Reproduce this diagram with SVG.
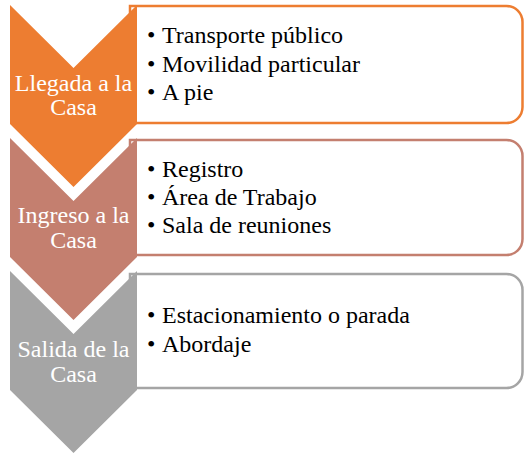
<svg xmlns="http://www.w3.org/2000/svg" width="524" height="455" viewBox="0 0 524 455">
<rect width="524" height="455" fill="#fff"/>
<g id="step1">
<path fill="#fff" stroke-width="2.5" stroke="#ED7D31" d="M130,6 H506.5 A16,16 0 0 1 522.5,22 V107 A16,16 0 0 1 506.5,123 H130 Z"/>
<path fill="#ED7D31" d="M10,5 L73.5,68 L137,5 L137,124 L73.5,187 L10,124 Z"/>
<text x="73.5" y="91" font-family="'Liberation Serif', 'Times New Roman', serif" font-size="24" fill="#fff" text-anchor="middle">Llegada a la</text>
<text x="73.5" y="115" font-family="'Liberation Serif', 'Times New Roman', serif" font-size="24" fill="#fff" text-anchor="middle">Casa</text>
<text x="147" y="43" font-family="'Liberation Serif', 'Times New Roman', serif" font-size="24">•</text>
<text x="162" y="43" font-family="'Liberation Serif', 'Times New Roman', serif" font-size="24">Transporte público</text>
<text x="147" y="72" font-family="'Liberation Serif', 'Times New Roman', serif" font-size="24">•</text>
<text x="162" y="72" font-family="'Liberation Serif', 'Times New Roman', serif" font-size="24">Movilidad particular</text>
<text x="147" y="100" font-family="'Liberation Serif', 'Times New Roman', serif" font-size="24">•</text>
<text x="162" y="100" font-family="'Liberation Serif', 'Times New Roman', serif" font-size="24">A pie</text>
</g>
<g id="step2">
<path fill="#fff" stroke-width="2.5" stroke="#C47F6F" d="M130,140 H506.5 A16,16 0 0 1 522.5,156 V239 A16,16 0 0 1 506.5,255 H130 Z"/>
<path fill="#C47F6F" d="M10,138 L73.5,201 L137,138 L137,257 L73.5,320 L10,257 Z"/>
<text x="73.5" y="223" font-family="'Liberation Serif', 'Times New Roman', serif" font-size="24" fill="#fff" text-anchor="middle">Ingreso a la</text>
<text x="73.5" y="248" font-family="'Liberation Serif', 'Times New Roman', serif" font-size="24" fill="#fff" text-anchor="middle">Casa</text>
<text x="147" y="177" font-family="'Liberation Serif', 'Times New Roman', serif" font-size="24">•</text>
<text x="162" y="177" font-family="'Liberation Serif', 'Times New Roman', serif" font-size="24">Registro</text>
<text x="147" y="205" font-family="'Liberation Serif', 'Times New Roman', serif" font-size="24">•</text>
<text x="162" y="205" font-family="'Liberation Serif', 'Times New Roman', serif" font-size="24">Área de Trabajo</text>
<text x="147" y="233" font-family="'Liberation Serif', 'Times New Roman', serif" font-size="24">•</text>
<text x="162" y="233" font-family="'Liberation Serif', 'Times New Roman', serif" font-size="24">Sala de reuniones</text>
</g>
<g id="step3">
<path fill="#fff" stroke-width="2.5" stroke="#A5A5A5" d="M130,274 H506.5 A16,16 0 0 1 522.5,290 V372 A16,16 0 0 1 506.5,388 H130 Z"/>
<path fill="#A5A5A5" d="M10,271 L73.5,334 L137,271 L137,390 L73.5,453 L10,390 Z"/>
<text x="73.5" y="357" font-family="'Liberation Serif', 'Times New Roman', serif" font-size="24" fill="#fff" text-anchor="middle">Salida de la</text>
<text x="73.5" y="382" font-family="'Liberation Serif', 'Times New Roman', serif" font-size="24" fill="#fff" text-anchor="middle">Casa</text>
<text x="147" y="323" font-family="'Liberation Serif', 'Times New Roman', serif" font-size="24">•</text>
<text x="162" y="323" font-family="'Liberation Serif', 'Times New Roman', serif" font-size="24">Estacionamiento o parada</text>
<text x="147" y="352" font-family="'Liberation Serif', 'Times New Roman', serif" font-size="24">•</text>
<text x="162" y="352" font-family="'Liberation Serif', 'Times New Roman', serif" font-size="24">Abordaje</text>
</g>
<g id="connectors"/>
</svg>
